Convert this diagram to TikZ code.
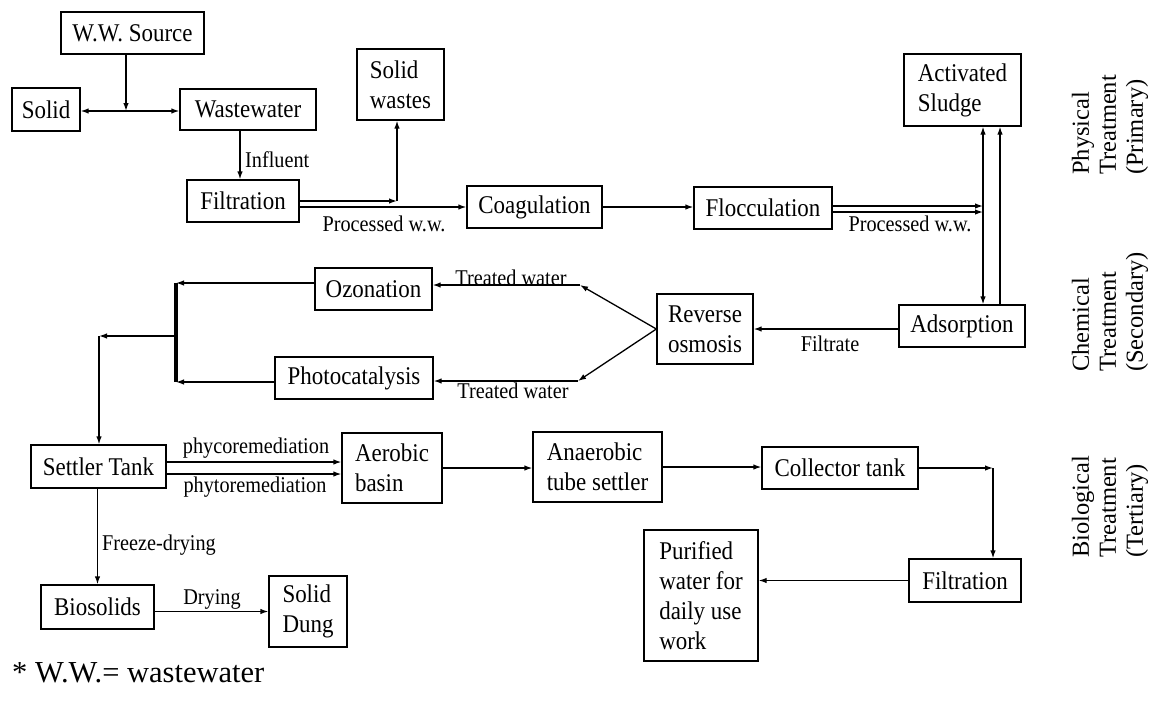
\documentclass[tikz,border=0pt]{standalone}
\usepackage{fontspec}
\setmainfont{Liberation Serif}[FakeStretch=0.9]
\newfontfamily\plainserif{Liberation Serif}
\usetikzlibrary{arrows.meta,calc}
\tikzset{
  box/.style={draw, line width=1.3pt, inner sep=0pt, align=left,
    font=\fontsize{25.5}{30}\selectfont},
  lbl/.style={inner sep=0pt, font=\fontsize{22.5}{27}\selectfont},
  conn/.style={line width=1.3pt},
  tip/.tip={Latex[length=8pt,width=5.5pt]},
  arr/.style={conn, -tip},
  arrboth/.style={conn, tip-tip},
  side/.style={rotate=90, align=left, inner sep=0pt,
    font=\plainserif\fontsize{24.5}{27}\selectfont},
}
\begin{document}
\begin{tikzpicture}[x=1pt,y=-1pt]
\useasboundingbox (0,0) rectangle (1155,702);

% ---- process boxes ----
\node[box, minimum width=143pt, minimum height=42pt] (src) at (132.5,33) {W.W. Source};
\node[box, minimum width=68pt, minimum height=43pt] (solid) at (46,109.5) {Solid};
\node[box, minimum width=136pt, minimum height=41pt] (ww) at (248,109.5) {Wastewater};
\node[box, minimum width=87pt, minimum height=71pt] (sw) at (400.5,84.5) {Solid\\wastes};
\node[box, minimum width=112pt, minimum height=42pt] (filt1) at (243,201) {Filtration};
\node[box, minimum width=135pt, minimum height=42pt] (coag) at (534.5,207) {Coagulation};
\node[box, minimum width=138pt, minimum height=42pt] (floc) at (763,208) {Flocculation};
\node[box, minimum width=117pt, minimum height=72pt] (asl) at (962.5,90) {Activated\\Sludge};
\node[box, minimum width=126pt, minimum height=42pt] (ads) at (962,326) {Adsorption};
\node[box, minimum width=96pt, minimum height=70pt] (ro) at (705,329) {Reverse\\osmosis};
\node[box, minimum width=117pt, minimum height=42pt] (ozo) at (373.5,289) {Ozonation};
\node[box, minimum width=158pt, minimum height=42pt] (photo) at (354,378) {Photocatalysis};
\node[box, minimum width=135pt, minimum height=43pt] (settle) at (98.5,466.5) {Settler Tank};
\node[box, minimum width=100pt, minimum height=70pt] (aer) at (392,468) {Aerobic\\basin};
\node[box, minimum width=129pt, minimum height=70pt] (anaer) at (597.5,467) {Anaerobic\\tube settler};
\node[box, minimum width=156pt, minimum height=42pt] (coll) at (840,468) {Collector tank};
\node[box, minimum width=112pt, minimum height=43pt] (fil2) at (965,580.5) {Filtration};
\node[box, minimum width=114pt, minimum height=131pt] (pur) at (701,595.5) {Purified\\water for\\daily use\\work};
\node[box, minimum width=113pt, minimum height=44pt] (bio) at (97.5,607) {Biosolids};
\node[box, minimum width=78pt, minimum height=71pt] (dung) at (308,611.5) {Solid\\Dung};

% ---- bend and junction points ----
\coordinate (j1) at (126,111);
\coordinate (cinf) at (240,0);
\coordinate (csw) at (397,201);
\coordinate (ca1) at (983,206);
\coordinate (ca2) at (983,212);
\coordinate (ca3) at (1000,0);
\coordinate (t1) at (580,285);
\coordinate (t2) at (578,381);
\coordinate (b1) at (176,283);
\coordinate (b2) at (176,382);
\coordinate (b3) at (176,336);
\coordinate (b4) at (99,336);
\coordinate (yphy1) at (0,462);
\coordinate (yphy2) at (0,474);
\coordinate (cf) at (993,468);

% ---- primary stage ----
\draw[arr] (j1 |- src.south) -- (j1);
\draw[arr] (j1) -- (j1 -| solid.east);
\draw[arr] (j1) -- (j1 -| ww.west);
\draw[arr] (ww.south -| cinf) -- (filt1.north -| cinf);
\draw[arr] (filt1.east |- csw) -- (csw);
\draw[arr] (csw) -- (csw |- sw.south);
\draw[arr] (filt1.east |- coag.west) -- (coag.west);
\draw[arr] (coag.east) -- (coag.east -| floc.west);
\draw[arr] (floc.east |- ca1) -- (ca1);
\draw[arr] (floc.east |- ca2) -- (ca2);
\draw[arrboth] (ca1 |- asl.south) -- (ca1 |- ads.north);
\draw[arr] (ca3 |- ads.north) -- (ca3 |- asl.south);

\node[lbl, anchor=base west] (linf) at (245,167) {Influent};
\node[lbl, anchor=base] (lpw1) at (384,231) {Processed w.w.};
\node[lbl, anchor=base] (lpw2) at (910,231) {Processed w.w.};

% ---- secondary stage ----
\draw[arr] (ro.east -| ads.west) -- (ro.east);
\draw[arr] (ro.west) -- (t1);
\draw[arr] (ro.west) -- (t2);
\draw[arr] (t1) -- (t1 -| ozo.east);
\draw[arr] (t2) -- (t2 -| photo.east);
\draw[arr] (ozo.west |- b1) -- (b1);
\draw[arr] (photo.west |- b2) -- (b2);
\draw[line width=3.5pt] (b1) -- (b2);
\draw[arr] (b3) -- (b4);
\draw[arr] (b4) -- (b4 |- settle.north);

\node[lbl, anchor=base] (lfil) at (830,351) {Filtrate};
\node[lbl, anchor=base] (ltw1) at (511,285) {Treated water};
\node[lbl, anchor=base] (ltw2) at (513,398) {Treated water};

% ---- tertiary stage ----
\draw[arr] (settle.east |- yphy1) -- (aer.west |- yphy1);
\draw[arr] (settle.east |- yphy2) -- (aer.west |- yphy2);
\draw[arr] (aer.east) -- (aer.east -| anaer.west);
\draw[arr] (anaer.east) -- (anaer.east -| coll.west);
\draw[arr] (coll.east |- cf) -- (cf);
\draw[arr] (cf) -- (cf |- fil2.north);
\draw[arr] (fil2.west) -- (fil2.west -| pur.east);
\draw[arr] (settle.south -| bio.north) -- (bio.north);
\draw[arr] (bio.east |- dung.west) -- (dung.west);

\node[lbl, anchor=base] (lphyco) at (256,453) {phycoremediation};
\node[lbl, anchor=base] (lphyto) at (255,492) {phytoremediation};
\node[lbl, anchor=base west] (lfrz) at (102,550) {Freeze-drying};
\node[lbl, anchor=base] (ldry) at (212,604) {Drying};

% ---- stage names ----
\node[side, anchor=west] (sphys) at (1110,175) {Physical\\Treatment\\(Primary)};
\node[side, anchor=west] (schem) at (1110,372) {Chemical\\Treatment\\(Secondary)};
\node[side, anchor=west] (sbio) at (1110,558) {Biological\\Treatment\\(Tertiary)};

% ---- footnote ----
\node[inner sep=0pt, anchor=base west, font=\plainserif\fontsize{30.5}{36}\selectfont] (note) at (12,682) {* W.W.= wastewater};
\end{tikzpicture}
\end{document}
